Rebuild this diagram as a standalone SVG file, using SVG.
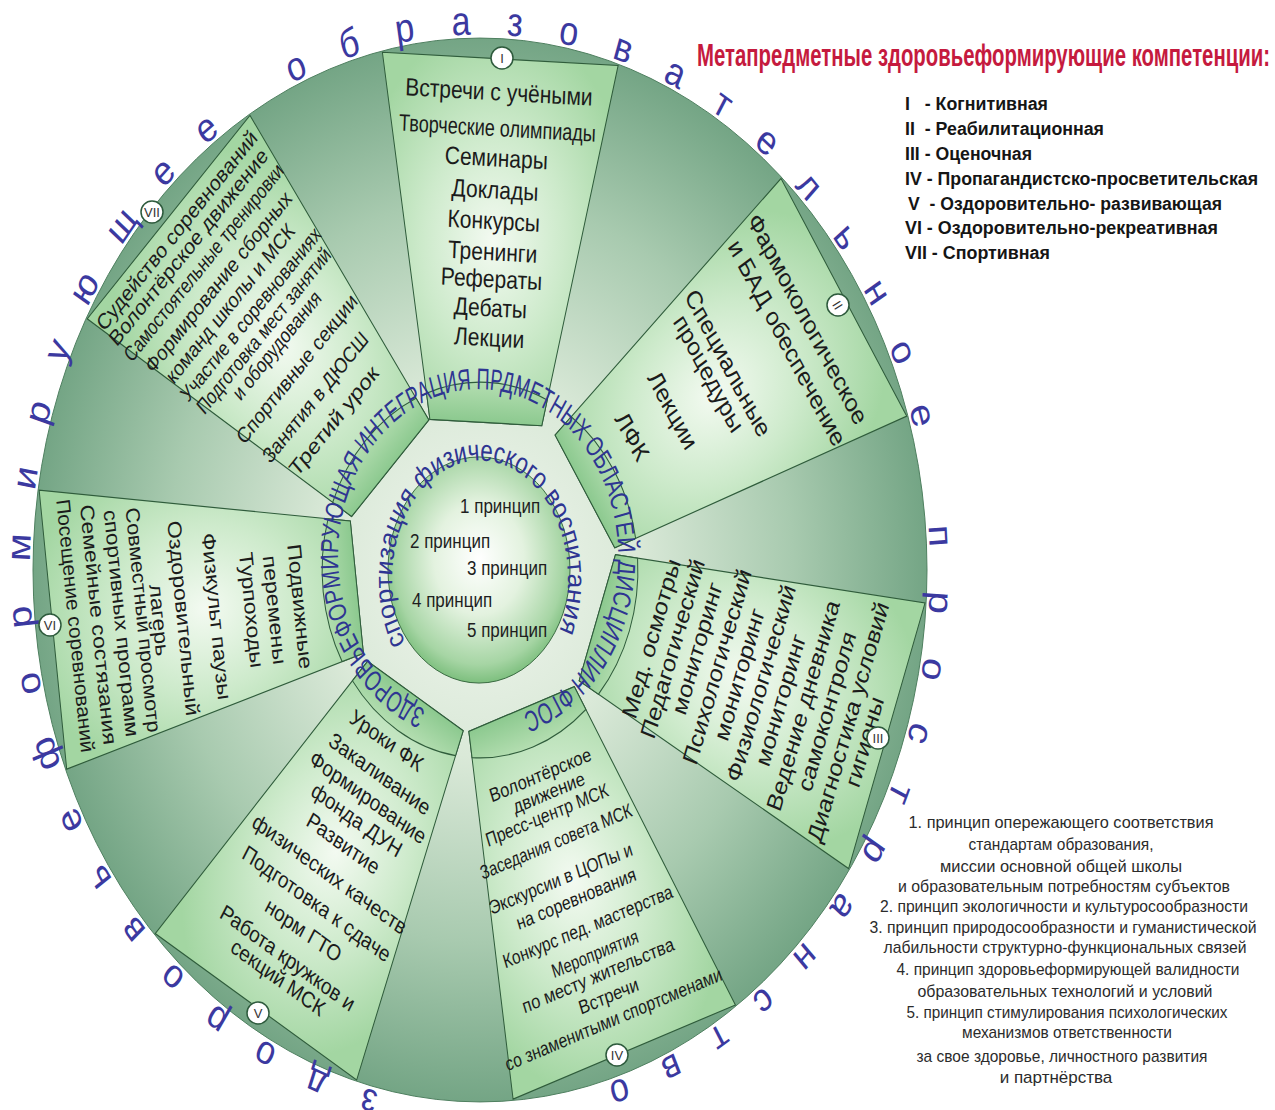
<svg xmlns="http://www.w3.org/2000/svg" width="1275" height="1110" viewBox="0 0 1275 1110">
<style>
.s{font-family:'Liberation Sans',Arial,sans-serif;fill:#1b1b1b;text-anchor:middle}
.ring{font-family:'Liberation Sans',Arial,sans-serif;fill:#2e3592}
.outer{font-family:'Liberation Sans',Arial,sans-serif;fill:#3b39a0;font-size:34px}
.pr{font-family:'Liberation Sans',Arial,sans-serif;fill:#1e1e1e;font-size:17px}
.badge circle{fill:#fff;stroke:#2d5a3c;stroke-width:1.5}
.badge text{font-family:'Liberation Sans',Arial,sans-serif;font-size:13px;fill:#333;text-anchor:middle}
.lg{font-family:'Liberation Sans',Arial,sans-serif;font-weight:bold;font-size:18px;fill:#151515;white-space:pre}
.note{font-family:'Liberation Sans',Arial,sans-serif;font-size:17px;fill:#2b2b2b;text-anchor:middle}
.box{fill:url(#boxFill);stroke:#2f5c3b;stroke-width:1;vector-effect:non-scaling-stroke}
.stub{fill:url(#stubFill);stroke:#2f5c3b;stroke-width:1;vector-effect:non-scaling-stroke}
</style>
<defs>
  <radialGradient id="discFill" cx="0" cy="0" r="447" gradientUnits="userSpaceOnUse">
    <stop offset="0" stop-color="#f1f6ef"/>
    <stop offset="0.35" stop-color="#dae9d8"/>
    <stop offset="0.7" stop-color="#a8caaf"/>
    <stop offset="1" stop-color="#74a585"/>
  </radialGradient>
  <radialGradient id="boxFill" cx="0.5" cy="0.5" r="0.6">
    <stop offset="0" stop-color="#f3faf1"/>
    <stop offset="0.5" stop-color="#cdeacb"/>
    <stop offset="1" stop-color="#a3d6a2"/>
  </radialGradient>
  <linearGradient id="stubFill" x1="0" y1="0" x2="0" y2="1">
    <stop offset="0" stop-color="#b4deb1"/>
    <stop offset="1" stop-color="#8cc98f"/>
  </linearGradient>
  <radialGradient id="ovalFill" cx="0.5" cy="0.45" r="0.55">
    <stop offset="0" stop-color="#ffffff"/>
    <stop offset="0.45" stop-color="#e3f2df"/>
    <stop offset="0.85" stop-color="#a6d5a4"/>
    <stop offset="1" stop-color="#7dbf7e"/>
  </radialGradient>
  <path id="boxPath" d="M -118 -430 L 118 -430 L 56 -124 L -56 -124 Z"/>
  <path id="stubPath" d="M -56 -124 L 56 -124 L 60.4 -145.9 A 158 158 0 0 0 -60.4 -145.9 Z"/>
  <path id="outerArc" d="M -101.2 438.5 A 450 450 0 0 1 0 -450 A 450 450 0 0 1 128.6 431.2"/>
  <path id="ringArc" d="M -54.4 117.8 A 140 140 0 0 1 -2 -152 A 140 140 0 0 1 36.6 122.6"/>
  <path id="sportArc" d="M -74.6 61 A 88 100 0 0 1 0 -92 A 88 100 0 0 1 74.6 61"/>
</defs>

<rect width="1275" height="1110" fill="#ffffff"/>

<!-- wheel drawn in round coordinates, stretched vertically -->
<g id="wheel" transform="translate(480 570) scale(1 1.19)">
  <circle id="disc" r="447" fill="url(#discFill)" stroke="#4f8060" stroke-width="1" vector-effect="non-scaling-stroke"/>

  <g id="sector-I" transform="rotate(2.7)"><use href="#boxPath" class="box"/><use href="#stubPath" class="stub"/></g>
  <g id="sector-II" transform="rotate(57.8)"><use href="#boxPath" class="box"/><use href="#stubPath" class="stub"/></g>
  <g id="sector-III" transform="rotate(108.9)"><use href="#boxPath" class="box"/><use href="#stubPath" class="stub"/></g>
  <g id="sector-IV" transform="rotate(160.4)"><use href="#boxPath" class="box"/><use href="#stubPath" class="stub"/></g>
  <g id="sector-V" transform="rotate(211.4)"><use href="#boxPath" class="box"/><use href="#stubPath" class="stub"/></g>
  <g id="sector-VI" transform="rotate(263.3)"><use href="#boxPath" class="box"/><use href="#stubPath" class="stub"/></g>
  <g id="sector-VII" transform="rotate(313.6)"><use href="#boxPath" class="box"/><use href="#stubPath" class="stub"/></g>

  <g id="text-I" transform="rotate(2.7)" class="s" font-size="21">
    <text x="0" y="-395">Встречи с учёными</text>
    <text x="0" y="-365" font-size="20" textLength="197" lengthAdjust="spacingAndGlyphs">Творческие олимпиады</text>
    <text x="0" y="-339.5">Семинары</text>
    <text x="0" y="-312.6">Доклады</text>
    <text x="0" y="-286.6">Конкурсы</text>
    <text x="0" y="-260.5">Тренинги</text>
    <text x="0" y="-237.8">Рефераты</text>
    <text x="0" y="-213.4">Дебаты</text>
    <text x="0" y="-188.2">Лекции</text>
  </g>

  <g id="text-II" transform="rotate(57.8)" class="s" font-size="22">
    <text x="-4" y="-382">Фармокологическое</text>
    <text x="2" y="-354">и БАД обеспечение</text>
    <text x="-15" y="-295">Специальные</text>
    <text x="-18" y="-274">процедуры</text>
    <text x="-11" y="-227">Лекции</text>
    <text x="-14" y="-181">ЛФК</text>
  </g>

  <g id="text-III" transform="rotate(-71.1)" class="s" font-size="21.5">
    <text x="1" y="188">Мед. осмотры</text>
    <text x="0" y="211">Педагогический</text>
    <text x="8" y="234">мониторинг</text>
    <text x="0" y="258">Психологический</text>
    <text x="1" y="281">мониторинг</text>
    <text x="1" y="304">Физиологический</text>
    <text x="-6" y="327">мониторинг</text>
    <text x="-3" y="350">Ведение дневника</text>
    <text x="0" y="374">самоконтроля</text>
    <text x="-1.5" y="397">Диагностика условий</text>
    <text x="-12" y="418">гигиены</text>
  </g>

  <g id="text-IV" transform="rotate(-19.6)" class="s" font-size="16.5">
    <text x="-1" y="188" textLength="107" lengthAdjust="spacingAndGlyphs">Волонтёрское</text>
    <text x="2" y="205">движение</text>
    <text x="-6" y="222" textLength="129" lengthAdjust="spacingAndGlyphs">Пресс-центр МСК</text>
    <text x="-5" y="246" textLength="160" lengthAdjust="spacingAndGlyphs">Заседания совета МСК</text>
    <text x="-11" y="277" textLength="151" lengthAdjust="spacingAndGlyphs">Экскурсии в ЦОПы и</text>
    <text x="-2" y="298" textLength="126" lengthAdjust="spacingAndGlyphs">на соревнования</text>
    <text x="1" y="324" textLength="179" lengthAdjust="spacingAndGlyphs">Конкурс пед. мастерства</text>
    <text x="0" y="348" textLength="91" lengthAdjust="spacingAndGlyphs">Мероприятия</text>
    <text x="-3" y="366" textLength="160" lengthAdjust="spacingAndGlyphs">по месту жительства</text>
    <text x="1" y="386">Встречи</text>
    <text x="-1" y="406" textLength="229" lengthAdjust="spacingAndGlyphs">со знаменитыми спортсменами</text>
  </g>

  <g id="text-V" transform="rotate(31.4)" class="s" font-size="19">
    <text x="-5" y="177.5">Уроки ФК</text>
    <text x="3.7" y="205">Закаливание</text>
    <text x="4" y="228">Формирование</text>
    <text x="4.3" y="250">фонда ДУН</text>
    <text x="3" y="274">Развитие</text>
    <text x="4.8" y="303">физических качеств</text>
    <text x="6.6" y="331">Подготовка к сдаче</text>
    <text x="7" y="357">норм ГТО</text>
    <text x="5.8" y="385">Работа кружков и</text>
    <text x="6" y="404">секций МСК</text>
  </g>

  <g id="text-VI" transform="rotate(83.3)" class="s" font-size="19.5">
    <text x="9.5" y="189">Подвижные</text>
    <text x="9.4" y="214.5">перемены</text>
    <text x="6.7" y="237.6">Турпоходы</text>
    <text x="8" y="273">Физкульт паузы</text>
    <text x="5.6" y="306">Оздоровительный</text>
    <text x="4.3" y="330">лагерь</text>
    <text x="2.3" y="346" textLength="190" lengthAdjust="spacingAndGlyphs">Совместный просмотр</text>
    <text x="2.6" y="368" textLength="192" lengthAdjust="spacingAndGlyphs">спортивных программ</text>
    <text x="1.1" y="391">Семейные состязания</text>
    <text x="-0.7" y="414" textLength="214" lengthAdjust="spacingAndGlyphs">Посещение соревнований</text>
  </g>

  <g id="text-VII" transform="rotate(-46.4)" class="s" font-size="18.5">
    <text x="-2.5" y="-410" textLength="224" lengthAdjust="spacingAndGlyphs">Судейство соревнований</text>
    <text x="-4.6" y="-392" textLength="221" lengthAdjust="spacingAndGlyphs">Волонтёрское движение</text>
    <text x="-3.3" y="-372" textLength="222" lengthAdjust="spacingAndGlyphs">Самостоятельные тренировки</text>
    <text x="-5" y="-350" textLength="203" lengthAdjust="spacingAndGlyphs">Формирование сборных</text>
    <text x="-10" y="-329" textLength="177" lengthAdjust="spacingAndGlyphs">команд школы и МСК</text>
    <text x="-2.5" y="-308" textLength="194" lengthAdjust="spacingAndGlyphs">Участие в соревнованиях</text>
    <text x="-3.5" y="-289" textLength="185" lengthAdjust="spacingAndGlyphs">Подготовка мест занятий</text>
    <text x="-3.4" y="-271" textLength="119" lengthAdjust="spacingAndGlyphs">и оборудования</text>
    <text x="-3.8" y="-243" textLength="166" lengthAdjust="spacingAndGlyphs">Спортивные секции</text>
    <text x="-8.5" y="-213" textLength="144" lengthAdjust="spacingAndGlyphs">Занятия в ДЮСШ</text>
    <text x="-10" y="-186" textLength="120" lengthAdjust="spacingAndGlyphs">Третий урок</text>
  </g>

  <!-- central oval with principles -->
  <g id="core">
    <ellipse cx="-1" cy="0" rx="91" ry="95" fill="url(#ovalFill)" stroke="#3a6b42" stroke-width="1" vector-effect="non-scaling-stroke"/>
    <text class="pr" x="-20" y="-47.9">1 принцип</text>
    <text class="pr" x="-70" y="-18.5">2 принцип</text>
    <text class="pr" x="-13" y="4.2">3 принцип</text>
    <text class="pr" x="-68" y="31">4 принцип</text>
    <text class="pr" x="-13" y="56.3">5 принцип</text>
  </g>

  <text id="ring-integration" class="ring" font-size="25"><textPath href="#ringArc" textLength="780" lengthAdjust="spacingAndGlyphs">ЗДОРОВЬЕФОРМИРУЮЩАЯ ИНТЕГРАЦИЯ ПРДМЕТНЫХ ОБЛАСТЕЙ ДИСЦИПЛИН ФГОС</textPath></text>
  <text id="ring-sport" class="ring" font-size="25"><textPath href="#sportArc" textLength="395" lengthAdjust="spacingAndGlyphs">спортизация физического воспитания</textPath></text>

  <text id="ring-outer" class="outer"><textPath href="#outerArc" textLength="2595" lengthAdjust="spacing">здоровьеформирующее образовательное пространство</textPath></text>
</g>

<!-- competence markers -->
<g id="badges">
  <g class="badge" id="badge-I"><circle cx="502" cy="58" r="11"/><text x="502" y="63">I</text></g>
  <g class="badge" id="badge-II"><circle cx="838" cy="305" r="11"/><text x="838" y="310" transform="rotate(58 838 305)">II</text></g>
  <g class="badge" id="badge-III"><circle cx="878" cy="738" r="11"/><text x="878" y="743">III</text></g>
  <g class="badge" id="badge-IV"><circle cx="617" cy="1055" r="11"/><text x="617" y="1060">IV</text></g>
  <g class="badge" id="badge-V"><circle cx="258" cy="1013" r="11"/><text x="258" y="1018">V</text></g>
  <g class="badge" id="badge-VI"><circle cx="50" cy="625" r="11"/><text x="50" y="630">VI</text></g>
  <g class="badge" id="badge-VII"><circle cx="152" cy="212" r="11"/><text x="152" y="217">VII</text></g>
</g>

<!-- title and legend -->
<g id="legend">
  <text x="697" y="66" font-family="'Liberation Sans',Arial,sans-serif" font-weight="bold" font-size="31" fill="#c51a3e" textLength="573" lengthAdjust="spacingAndGlyphs">Метапредметные здоровьеформирующие компетенции:</text>
  <text class="lg" x="905" y="110" textLength="143" lengthAdjust="spacingAndGlyphs">I   - Когнитивная</text>
  <text class="lg" x="905" y="135" textLength="199" lengthAdjust="spacingAndGlyphs">II  - Реабилитационная</text>
  <text class="lg" x="905" y="160" textLength="127" lengthAdjust="spacingAndGlyphs">III - Оценочная</text>
  <text class="lg" x="905" y="185" textLength="353" lengthAdjust="spacingAndGlyphs">IV - Пропагандистско-просветительская</text>
  <text class="lg" x="908" y="210" textLength="314" lengthAdjust="spacingAndGlyphs">V  - Оздоровительно- развивающая</text>
  <text class="lg" x="905" y="234" textLength="313" lengthAdjust="spacingAndGlyphs">VI - Оздоровительно-рекреативная</text>
  <text class="lg" x="905" y="259" textLength="145" lengthAdjust="spacingAndGlyphs">VII - Спортивная</text>
</g>

<!-- principles list -->
<g id="principles">
  <text class="note" x="1061" y="828" textLength="305" lengthAdjust="spacingAndGlyphs">1. принцип опережающего соответствия</text>
  <text class="note" x="1061" y="850" textLength="185" lengthAdjust="spacingAndGlyphs">стандартам образования,</text>
  <text class="note" x="1061" y="872" textLength="242" lengthAdjust="spacingAndGlyphs">миссии основной общей школы</text>
  <text class="note" x="1064" y="892" textLength="332" lengthAdjust="spacingAndGlyphs">и образовательным потребностям субъектов</text>
  <text class="note" x="1064" y="912" textLength="368" lengthAdjust="spacingAndGlyphs">2. принцип экологичности и культуросообразности</text>
  <text class="note" x="1063" y="933" textLength="387" lengthAdjust="spacingAndGlyphs">3. принцип природосообразности и гуманистической</text>
  <text class="note" x="1065" y="953" textLength="363" lengthAdjust="spacingAndGlyphs">лабильности структурно-функциональных связей</text>
  <text class="note" x="1068" y="975" textLength="343" lengthAdjust="spacingAndGlyphs">4. принцип здоровьеформирующей валидности</text>
  <text class="note" x="1065" y="997" textLength="295" lengthAdjust="spacingAndGlyphs">образовательных технологий и условий</text>
  <text class="note" x="1067" y="1018" textLength="321" lengthAdjust="spacingAndGlyphs">5. принцип стимулирования психологических</text>
  <text class="note" x="1067" y="1038" textLength="210" lengthAdjust="spacingAndGlyphs">механизмов ответственности</text>
  <text class="note" x="1062" y="1062" textLength="291" lengthAdjust="spacingAndGlyphs">за свое здоровье, личностного развития</text>
  <text class="note" x="1056" y="1083">и партнёрства</text>
</g>
</svg>
